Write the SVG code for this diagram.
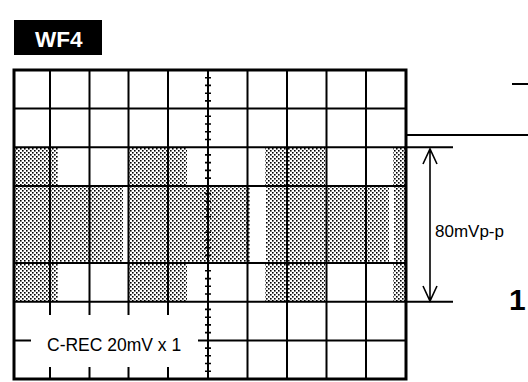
<svg xmlns="http://www.w3.org/2000/svg" width="528" height="382" viewBox="0 0 528 382">
<defs>
<pattern id="dots" width="4" height="4" patternUnits="userSpaceOnUse">
<rect x="0" y="0" width="1.6" height="1.6" fill="#000"/>
<rect x="2" y="2" width="1.6" height="1.6" fill="#000"/>
</pattern>
<style>
.g{stroke:#000;stroke-width:2;fill:none}
.b{stroke:#000;stroke-width:3;fill:none}
.t{stroke:#000;stroke-width:1.6;fill:none}
.sh{fill:url(#dots)}
.txt{font-family:"Liberation Sans",Arial,sans-serif;fill:#000}
</style>
</defs>
<rect width="528" height="382" fill="#fff"/>
<g id="title">
<rect x="14" y="20" width="88" height="35" fill="#000"/>
<text class="txt" x="35" y="47" font-size="22.5" font-weight="bold" style="fill:#fff">WF4</text>
</g>
<g id="shading">
<rect class="sh" x="14" y="147.2" width="44" height="38.7"/>
<rect class="sh" x="128" y="147.2" width="59" height="38.7"/>
<rect class="sh" x="265" y="147.2" width="60" height="38.7"/>
<rect class="sh" x="393" y="147.2" width="12" height="38.7"/>
<rect class="sh" x="14" y="185.9" width="109" height="77.2"/>
<rect class="sh" x="128" y="185.9" width="122" height="77.2"/>
<rect class="sh" x="266" y="185.9" width="123" height="77.2"/>
<rect class="sh" x="394" y="185.9" width="11" height="77.2"/>
<rect class="sh" x="14" y="263.1" width="44" height="38.6"/>
<rect class="sh" x="128" y="263.1" width="59" height="38.6"/>
<rect class="sh" x="265" y="263.1" width="60" height="38.6"/>
<rect class="sh" x="393" y="263.1" width="12" height="38.6"/>
</g>
<g id="grid">
<path class="g" d="M14 108.6H406M14 147.2H453M14 185.9H406M14 263.1H406M14 301.7H453M198 340.4H406"/>
<path class="g" d="M50 70V301.7M89.5 70V301.7M128.5 70V301.7M168 70V301.7M247.5 70V379M287 70V379M326.5 70V379M366 70V379"/>
<path class="g" d="M50 301.7V315M89.5 301.7V315M128.5 301.7V315M168 301.7V315M50 367V379M89.5 367V379M128.5 367V379M168 367V379M14 340.4H31"/>
<rect x="14" y="224.5" width="392" height="0" stroke="#000" stroke-width="5"/>
<rect class="b" x="14" y="70" width="392" height="309"/>
<path class="g" d="M208 70V379"/>
<path class="t" d="M205 77.7H211M205 85.4H211M205 93.2H211M205 100.9H211M205 116.3H211M205 124H211M205 131.7H211M205 139.5H211M205 154.9H211M205 162.6H211M205 170.4H211M205 178.1H211M205 193.6H211M205 201.3H211M205 209H211M205 216.8H211M205 232.2H211M205 240H211M205 247.7H211M205 255.4H211M205 270.8H211M205 278.6H211M205 286.3H211M205 294H211M205 309.4H211M205 317.2H211M205 324.9H211M205 332.6H211M205 348.1H211M205 355.8H211M205 363.5H211M205 371.2H211"/>
</g>
<g id="annotations">
<path class="g" d="M406 135H528M512 84H528"/>
<path class="t" d="M430 149V301M423 164L430 149L437 164M423 286L430 301L437 286"/>
<text class="txt" x="435" y="237" font-size="17">80mVp-p</text>
<text class="txt" x="509" y="310" font-size="30" font-weight="bold">1</text>
<text class="txt" x="47" y="351" font-size="17.5">C-REC 20mV x 1</text>
</g>
</svg>
